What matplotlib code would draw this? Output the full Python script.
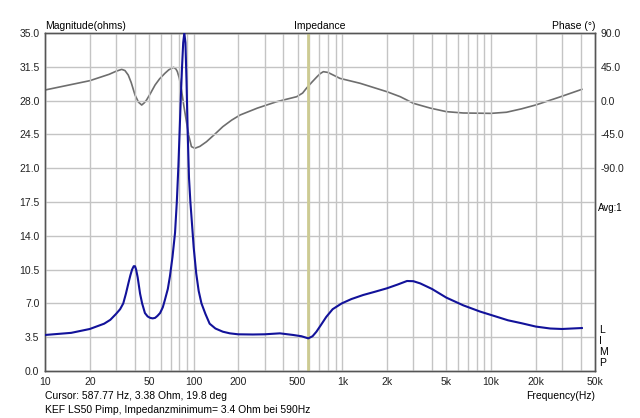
import numpy as np
import matplotlib
matplotlib.use('Agg')
import matplotlib.pyplot as plt

plt.rcParams['font.family'] = ['Liberation Sans', 'DejaVu Sans']

# impedance magnitude (ohms)
imp_freq = [10, 15, 20, 25, 27.5, 30, 32, 33.6, 35, 36.4, 37.5, 38.5, 39.5, 40.3, 41,
            42, 43.6, 45, 47, 49, 51, 53, 55, 57, 59.4, 62, 64, 67, 69.2, 72, 74.9,
            77, 78.9, 80.5, 82, 83.5, 85, 86.5, 88, 89.5, 91, 93, 95, 96.6, 100, 104,
            108, 112.8, 120, 128, 140, 157, 175, 199, 250, 300, 380, 467, 530, 590,
            630, 669, 720, 779, 860, 990, 1150, 1380, 1650, 1990, 2350, 2720, 3000,
            3340, 4000, 5000, 6500, 8450, 10000, 13000, 16000, 20000, 25000, 30000,
            40800]
imp_ohm = [3.73, 3.95, 4.35, 4.9, 5.3, 5.9, 6.4, 7.0, 8.0, 9.1, 9.9, 10.5, 10.85,
           10.85, 10.5, 9.7, 8.0, 7.0, 6.0, 5.65, 5.5, 5.45, 5.5, 5.7, 6.0, 6.6, 7.35,
           8.5, 9.8, 11.8, 14.3, 17.5, 21.2, 25.0, 28.5, 31.5, 34.0, 35.0, 34.0, 30.0,
           25.0, 20.0, 17.5, 16.0, 12.8, 10.1, 8.3, 7.0, 5.9, 4.9, 4.4, 4.07, 3.9,
           3.8, 3.78, 3.8, 3.9, 3.73, 3.6, 3.38, 3.6, 4.07, 4.8, 5.6, 6.4, 7.0, 7.45,
           7.87, 8.2, 8.56, 8.95, 9.32, 9.3, 9.07, 8.5, 7.6, 6.8, 6.15, 5.8, 5.25,
           4.95, 4.6, 4.4, 4.35, 4.45]

# impedance phase (deg)
ph_freq = [10, 20, 27, 30, 32.8, 34.5, 36.3, 38, 40.3, 42.5, 44.7, 46.5, 48.2, 51, 55,
           59, 64, 68, 73.3, 76, 77.7, 80, 82.8, 86, 89.7, 93, 96.6, 101.8, 110, 122,
           140, 157, 180, 205, 268, 361, 493, 540, 573, 620, 676, 710, 745, 800, 963,
           1318, 1990, 2450, 3000, 3900, 5000, 6500, 10000, 12700, 16000, 20000,
           28600, 40800]
ph_deg = [14.1, 26.5, 35, 39, 41.6, 40, 34, 24, 7.5, -2, -5.9, -3, 0.8, 9, 20.8, 29,
          36.3, 41, 44.3, 42, 38.5, 30, 14, -8, -30, -48, -61.3, -63.5, -61, -54.7,
          -44, -34.7, -26, -19.2, -10, -1.5, 5.2, 10, 16.4, 24, 31.9, 36, 38.5, 37.5,
          29.6, 23, 11.9, 5.2, -3.6, -10, -14.7, -16.5, -17, -15.5, -11, -5.8, 4.4,
          15]

cursor_hz = 587.77

mag_ticks = [0.0, 3.5, 7.0, 10.5, 14.0, 17.5, 21.0, 24.5, 28.0, 31.5, 35.0]
ph_ticks = [90.0, 45.0, 0.0, -45.0, -90.0]
x_ticks = [10, 20, 50, 100, 200, 500, 1000, 2000, 5000, 10000, 20000, 50000]
x_labels = ['10', '20', '50', '100', '200', '500', '1k', '2k', '5k', '10k', '20k', '50k']

fig = plt.figure(figsize=(6.4, 4.18), dpi=100)
ax = fig.add_axes([45/640, 47/418, 550/640, 338/418])

ax.set_xscale('log')
ax.set_xlim(10, 50000)
ax.set_ylim(0, 35)

# grid: every 1-2-3..9 of each decade
minor = [m * 10**d for d in range(1, 5) for m in range(1, 10)]
minor = [v for v in minor if 10 < v < 50000]
for v in minor:
    ax.axvline(v, color='#c4c4c4', lw=1, zorder=0)
for v in mag_ticks[1:-1]:
    ax.axhline(v, color='#c4c4c4', lw=1, zorder=0)

ax.axvline(cursor_hz, color='#cdcb92', lw=2, zorder=1)

ax2 = ax.twinx()
ax2.set_ylim(-360, 90)
ax2.plot(ph_freq, ph_deg, color='#6e6e6e', lw=1.2, zorder=2)
ax.plot(imp_freq, imp_ohm, color='#12129a', lw=1.5, zorder=3, clip_on=True)
ax.set_zorder(ax2.get_zorder() + 1)
ax.patch.set_visible(False)

ax.set_xticks(x_ticks)
ax.set_xticklabels(x_labels)
ax.xaxis.set_minor_locator(matplotlib.ticker.NullLocator())
ax.set_yticks(mag_ticks)
ax.set_yticklabels(['%.1f' % v for v in mag_ticks])
ax2.set_yticks(ph_ticks)
ax2.set_yticklabels(['%.1f' % v for v in ph_ticks])

for a in (ax, ax2):
    a.tick_params(length=0, labelsize=7.5, colors='#222222', pad=4)
    for s in a.spines.values():
        s.set_color('#555555')
        s.set_linewidth(1)

fs = 7.5
ax.text(0, 1.005, 'Magnitude(ohms)', transform=ax.transAxes, fontsize=fs, va='bottom', ha='left')
ax.text(0.5, 1.005, 'Impedance', transform=ax.transAxes, fontsize=fs, va='bottom', ha='center')
ax.text(1, 1.005, 'Phase (°)', transform=ax.transAxes, fontsize=fs, va='bottom', ha='right')
fig.text(598/640, 1 - 208/418, 'Avg:1', fontsize=7, va='center', ha='left')
for i, ch in enumerate('LIMP'):
    fig.text(599/640, 1 - (330 + i * 11)/418, ch, fontsize=7.5, va='center', ha='left')
fig.text(595/640, 1 - 396/418, 'Frequency(Hz)', fontsize=fs, va='center', ha='right')
fig.text(45/640, 1 - 396/418, 'Cursor: 587.77 Hz, 3.38 Ohm, 19.8 deg', fontsize=fs, va='center', ha='left')
fig.text(45/640, 1 - 410/418, 'KEF LS50 Pimp, Impedanzminimum= 3.4 Ohm bei 590Hz', fontsize=fs, va='center', ha='left')

fig.savefig('out.png', dpi=100)
